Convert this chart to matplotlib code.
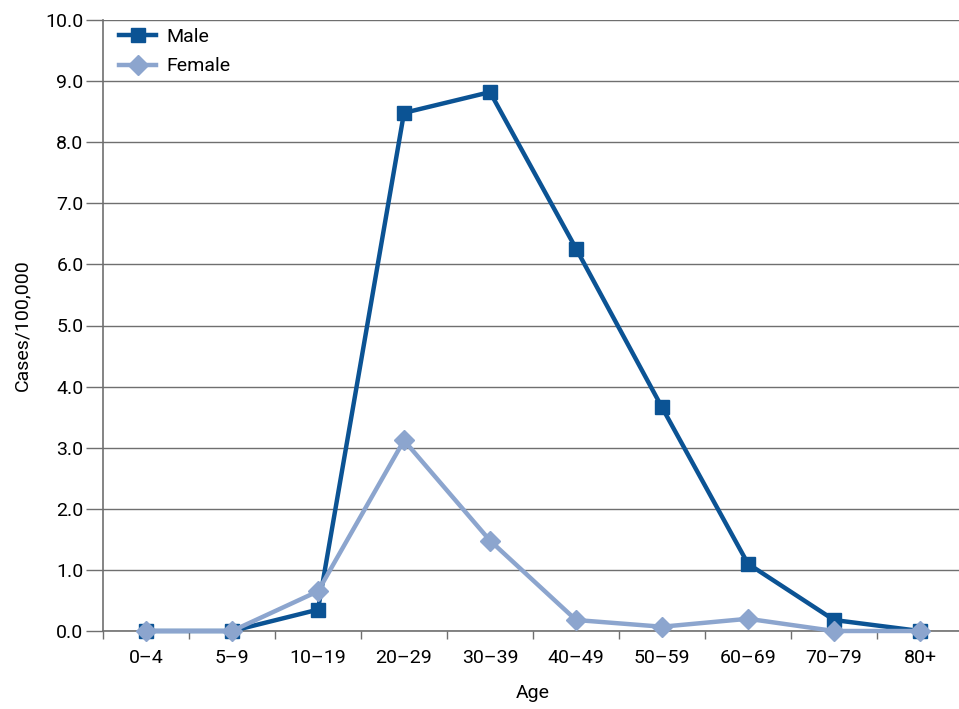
import numpy as np
import matplotlib
matplotlib.use("Agg")
import matplotlib.pyplot as plt
from matplotlib.ticker import FixedLocator, NullFormatter

plt.rcParams["font.family"] = ["Liberation Sans Narrow", "Roboto", "DejaVu Sans"]

# Data
AGE_GROUPS = ["0\u20134", "5\u20139", "10\u201319", "20\u201329", "30\u201339",
              "40\u201349", "50\u201359", "60\u201369", "70\u201379", "80+"]
MALE = [0.0, 0.0, 0.35, 8.48, 8.82, 6.26, 3.66, 1.10, 0.18, 0.0]
FEMALE = [0.0, 0.0, 0.65, 3.12, 1.48, 0.18, 0.07, 0.20, 0.0, 0.0]
Y_TICKS = [0, 1, 2, 3, 4, 5, 6, 7, 8, 9, 10]

MALE_C = "#0B5394"
FEMALE_C = "#8CA5CE"
GRID_C = "#6f6f6f"
FS = 14

W, H = 959, 709
fig = plt.figure(figsize=(W / 100, H / 100), dpi=100)
ax = fig.add_axes([103 / W, 1 - 631 / H, (963 - 103) / W, (631 - 20) / H])

x = np.arange(len(AGE_GROUPS))
ax.plot(x, MALE, color=MALE_C, lw=3.2, marker="s", ms=10, label="Male",
        zorder=3, clip_on=False)
ax.plot(x, FEMALE, color=FEMALE_C, lw=3.2, marker="D", ms=10, label="Female",
        zorder=4, clip_on=False)

ax.set_xlim(-0.5, len(AGE_GROUPS) - 0.5)
ax.set_ylim(0, 10)
ax.set_yticks(Y_TICKS)
ax.set_yticklabels([f"{v:.1f}" for v in Y_TICKS], fontsize=FS)
ax.yaxis.grid(True, color=GRID_C, lw=1.0)
ax.set_axisbelow(True)

ax.set_xticks(x)
ax.set_xticklabels(AGE_GROUPS, fontsize=FS)
ax.xaxis.set_minor_locator(FixedLocator(np.arange(-0.5, len(AGE_GROUPS), 1.0)))
ax.xaxis.set_minor_formatter(NullFormatter())
ax.tick_params(axis="x", which="major", length=0, pad=13)
ax.tick_params(axis="x", which="minor", length=6, color=GRID_C, width=1.0)
ax.tick_params(axis="y", length=12, color=GRID_C, width=1.0, pad=2)

for side in ("top", "right"):
    ax.spines[side].set_visible(False)
for side in ("left", "bottom"):
    ax.spines[side].set_color(GRID_C)
    ax.spines[side].set_linewidth(1.2)

ax.set_xlabel("Age", fontsize=FS, labelpad=12)
ax.set_ylabel("Cases/100,000", fontsize=FS, labelpad=10)

ax.legend(loc="upper left", frameon=False, fontsize=FS, handlelength=1.9,
          borderaxespad=0.0, labelspacing=0.6, handletextpad=0.5,
          bbox_to_anchor=(0.01, 1.0))

fig.savefig("out.png", dpi=100)
